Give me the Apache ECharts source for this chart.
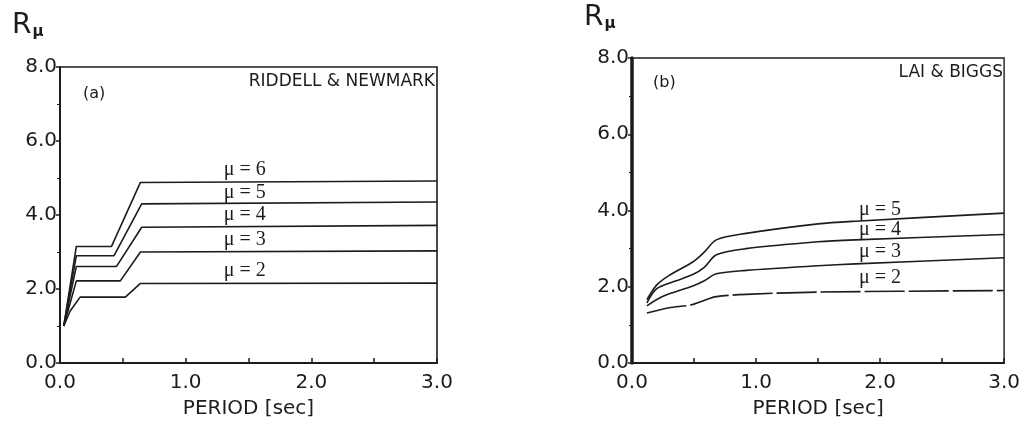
<!DOCTYPE html>
<html><head><meta charset="utf-8">
<script src="https://cdn.jsdelivr.net/npm/echarts@6/dist/echarts.min.js"></script>
<style>html,body{margin:0;padding:0;background:#fff}#c{width:1023px;height:424px}</style>
</head><body><div id="c"></div>
<script>
// ---- data: (a) Riddell & Newmark ----
const rnMu6 = [[0.03,1.0],[0.13,3.15],[0.41,3.15],[0.64,4.88],[3.0,4.92]];
const rnMu5 = [[0.03,1.0],[0.13,2.9],[0.43,2.9],[0.65,4.3],[3.0,4.35]];
const rnMu4 = [[0.03,1.0],[0.13,2.61],[0.45,2.61],[0.65,3.67],[3.0,3.72]];
const rnMu3 = [[0.03,1.0],[0.13,2.22],[0.48,2.22],[0.64,3.0],[3.0,3.03]];
const rnMu2 = [[0.03,1.0],[0.08,1.4],[0.16,1.78],[0.52,1.78],[0.64,2.15],[3.0,2.16]];
// ---- data: (b) Lai & Biggs ----
const lbMu5 = [[0.12,1.66],[0.2,2.05],[0.3,2.3],[0.49,2.65],[0.58,2.9],[0.68,3.23],[0.92,3.4],[1.5,3.65],[1.8,3.72],[3.0,3.93]];
const lbMu4 = [[0.12,1.58],[0.2,1.95],[0.35,2.15],[0.49,2.32],[0.58,2.5],[0.68,2.84],[0.92,3.0],[1.5,3.18],[1.8,3.23],[3.0,3.37]];
const lbMu3 = [[0.12,1.5],[0.25,1.75],[0.49,2.02],[0.58,2.15],[0.68,2.34],[0.92,2.43],[1.5,2.55],[1.8,2.6],[3.0,2.76]];
const lbMu2 = [[0.12,1.31],[0.3,1.45],[0.47,1.52],[0.58,1.64],[0.68,1.74],[0.92,1.8],[1.5,1.86],[3.0,1.9]];
// labels
const rnLabels = ['μ = 6','μ = 5','μ = 4','μ = 3','μ = 2'];
const rnLabelAt = [[1.47,5.23],[1.47,4.61],[1.47,4.02],[1.47,3.34],[1.47,2.48]];
const lbLabels = ['μ = 5','μ = 4','μ = 3','μ = 2'];
const lbLabelAt = [[2.0,4.02],[2.0,3.49],[2.0,2.91],[2.0,2.23]];

const INK = '#1c1c1c';
const SANS = 'DejaVu Sans';

function xAx(gi){
  return {type:'value',gridIndex:gi,min:0,max:3,interval:1,
    name:'PERIOD [sec]',nameLocation:'middle',nameGap:36,
    nameTextStyle:{fontFamily:SANS,fontSize:20,color:INK},
    axisLine:{show:true,lineStyle:{color:INK,width:2}},
    axisTick:{show:true,inside:true,length:5,lineStyle:{color:INK,width:1.5}},
    minorTick:{show:true,splitNumber:2,length:5,lineStyle:{color:INK,width:1.5}},
    splitLine:{show:false},
    axisLabel:{fontFamily:SANS,fontSize:20,color:INK,margin:10,formatter:v=>v.toFixed(1)}};
}
function yAx(gi,w){
  return {type:'value',gridIndex:gi,min:0,max:8,interval:2,
    axisLine:{show:true,lineStyle:{color:INK,width:w}},
    axisTick:{show:true,inside:false,length:4,lineStyle:{color:INK,width:1.5}},
    minorTick:{show:true,splitNumber:2,length:3,lineStyle:{color:INK,width:1}},
    splitLine:{show:false},
    axisLabel:{fontFamily:SANS,fontSize:20,color:INK,margin:3,formatter:v=>v.toFixed(1)}};
}
function line(data,gi,labelText,labelPos,extra){
  return {type:'line',xAxisIndex:gi,yAxisIndex:gi,data:data,symbol:'none',
    lineStyle:Object.assign({color:INK,width:1.6},extra||{}),
    silent:true,animation:false,
    markPoint:{symbol:'circle',symbolSize:0,silent:true,
      data:[{coord:labelPos,label:{show:true,formatter:labelText,position:'inside',
        fontFamily:'Liberation Serif',fontSize:20,color:INK}}]}};
}
function rich(x,y){
  return {type:'text',left:x,top:y,style:{
    text:'{a|R}{b|μ}',
    rich:{a:{fontFamily:SANS,fontSize:28,fill:INK,verticalAlign:'bottom'},
          b:{fontFamily:SANS,fontSize:15,fontWeight:'bold',fill:INK,padding:[15,0,0,1],verticalAlign:'bottom'}}}};
}

const chart = echarts.init(document.getElementById('c'));
chart.setOption({
  animation:false,
  backgroundColor:'#fff',
  grid:[
    {left:60,top:67,width:377,height:297,show:true,borderColor:INK,borderWidth:1.6,backgroundColor:'transparent'},
    {left:632,top:58,width:375,height:305,show:true,borderColor:INK,borderWidth:1.4,backgroundColor:'transparent'}
  ],
  xAxis:[xAx(0),xAx(1)],
  yAxis:[yAx(0,2),yAx(1,3.5)],
  series:[
    line(rnMu6,0,rnLabels[0],rnLabelAt[0]),
    line(rnMu5,0,rnLabels[1],rnLabelAt[1]),
    line(rnMu4,0,rnLabels[2],rnLabelAt[2]),
    line(rnMu3,0,rnLabels[3],rnLabelAt[3]),
    line(rnMu2,0,rnLabels[4],rnLabelAt[4]),
    Object.assign(line(lbMu5,1,lbLabels[0],lbLabelAt[0]),{smooth:0.3}),
    Object.assign(line(lbMu4,1,lbLabels[1],lbLabelAt[1]),{smooth:0.3}),
    Object.assign(line(lbMu3,1,lbLabels[2],lbLabelAt[2]),{smooth:0.3}),
    Object.assign(line(lbMu2,1,lbLabels[3],lbLabelAt[3],{type:[40,4]}),{smooth:0.3})
  ],
  graphic:[
    rich(12,12),
    rich(584,4),
    {type:'text',right:1023-435,top:73,style:{text:'RIDDELL & NEWMARK',fontFamily:SANS,fontSize:17,fill:INK}},
    {type:'text',left:83,top:86,style:{text:'(a)',fontFamily:SANS,fontSize:16,fill:INK}},
    {type:'text',right:1023-1003,top:64,style:{text:'LAI & BIGGS',fontFamily:SANS,fontSize:17,fill:INK}},
    {type:'text',left:653,top:75,style:{text:'(b)',fontFamily:SANS,fontSize:16,fill:INK}}
  ]
});
</script></body></html>
